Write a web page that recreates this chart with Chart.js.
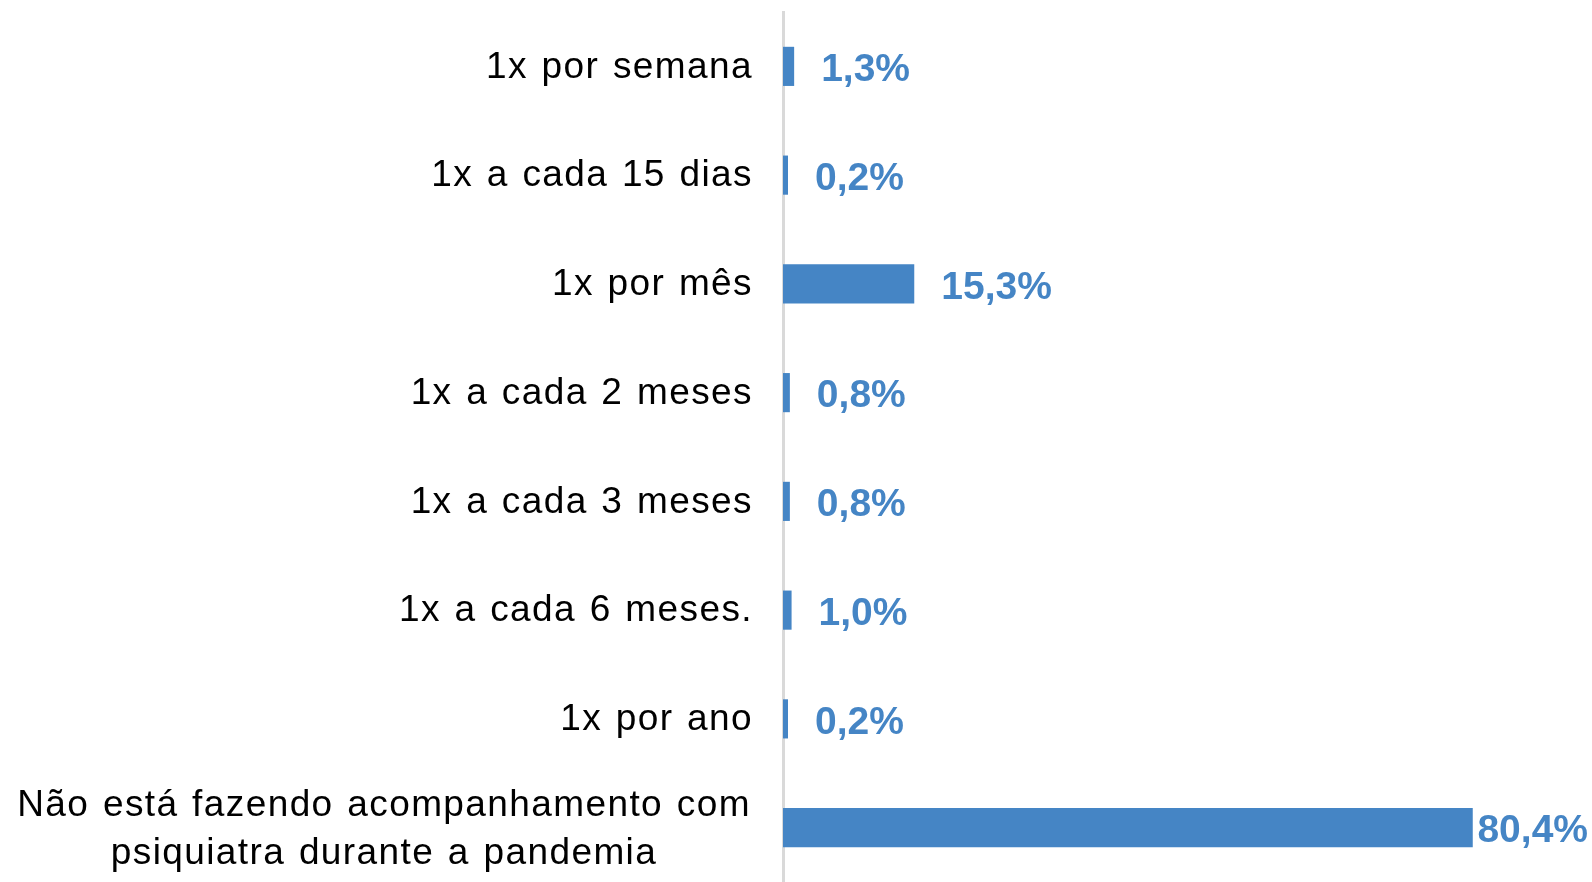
<!DOCTYPE html>
<html lang="pt">
<head>
<meta charset="UTF-8">
<title>Acompanhamento com psiquiatra</title>
<script src="https://cdn.jsdelivr.net/npm/chart.js"></script>
<style>
  html, body { margin: 0; padding: 0; background: #fff; }
  .chart-container { position: relative; width: 1592px; height: 882px; }
</style>
</head>
<body>
<div class="chart-container">
  <canvas id="chart"></canvas>
</div>
<script>
  const categorias = [
    ['1x por semana'],
    ['1x a cada 15 dias'],
    ['1x por mês'],
    ['1x a cada 2 meses'],
    ['1x a cada 3 meses'],
    ['1x a cada 6 meses.'],
    ['1x por ano'],
    ['Não está fazendo acompanhamento com', 'psiquiatra durante a pandemia']
  ];
  const percentuais = [1.3, 0.2, 15.3, 0.8, 0.8, 1.0, 0.2, 80.4];

  const azul = '#4585c5';

  // rótulos das categorias (centralizados quando têm duas linhas)
  const rotulosCategorias = {
    id: 'rotulosCategorias',
    afterDraw(chart) {
      const { ctx, scales: { y } } = chart;
      ctx.save();
      ctx.font = '37px "Liberation Sans", Arial, sans-serif';
      ctx.letterSpacing = '1.4px';
      ctx.wordSpacing = '2px';
      ctx.fillStyle = '#000';
      ctx.textBaseline = 'middle';
      categorias.forEach((linhas, i) => {
        const yc = y.getPixelForValue(i) + 1;
        if (linhas.length === 1) {
          ctx.textAlign = 'right';
          ctx.fillText(linhas[0], 753, yc);
        } else {
          ctx.textAlign = 'center';
          const lh = 48;
          linhas.forEach((t, k) => {
            ctx.fillText(t, 384, yc + 1 + (k - (linhas.length - 1) / 2) * lh);
          });
        }
      });
      ctx.restore();
    }
  };

  // valores ao fim das barras
  const rotulosValores = {
    id: 'rotulosValores',
    afterDatasetsDraw(chart) {
      const { ctx, scales: { x, y } } = chart;
      ctx.save();
      ctx.font = 'bold 39px "Liberation Sans", Arial, sans-serif';
      ctx.fillStyle = azul;
      ctx.textAlign = 'left';
      ctx.textBaseline = 'middle';
      percentuais.forEach((v, i) => {
        const txt = v.toFixed(1).replace('.', ',') + '%';
        const w = ctx.measureText(txt).width;
        let xp = Math.max(x.getPixelForValue(v), 788) + 27;
        if (xp + w > chart.width - 4) xp = chart.width - 4 - w;
        ctx.fillText(txt, xp, y.getPixelForValue(i) + 4);
      });
      ctx.restore();
    }
  };

  new Chart(document.getElementById('chart'), {
    type: 'bar',
    data: {
      labels: categorias,
      datasets: [{
        data: percentuais,
        backgroundColor: azul,
        borderWidth: 0,
        minBarLength: 5,
        barPercentage: 0.36,
        categoryPercentage: 1
      }]
    },
    options: {
      indexAxis: 'y',
      responsive: true,
      maintainAspectRatio: false,
      animation: false,
      layout: { padding: { top: 12, right: 0, bottom: 0, left: 0 } },
      plugins: {
        legend: { display: false },
        tooltip: { enabled: false }
      },
      scales: {
        x: {
          display: false,
          min: 0,
          max: 94.3
        },
        y: {
          grid: { display: false },
          border: { display: true, color: '#d9d9d9', width: 3 },
          ticks: { display: false },
          afterFit(scale) { scale.width = 783; }
        }
      }
    },
    plugins: [rotulosCategorias, rotulosValores]
  });
</script>
</body>
</html>
